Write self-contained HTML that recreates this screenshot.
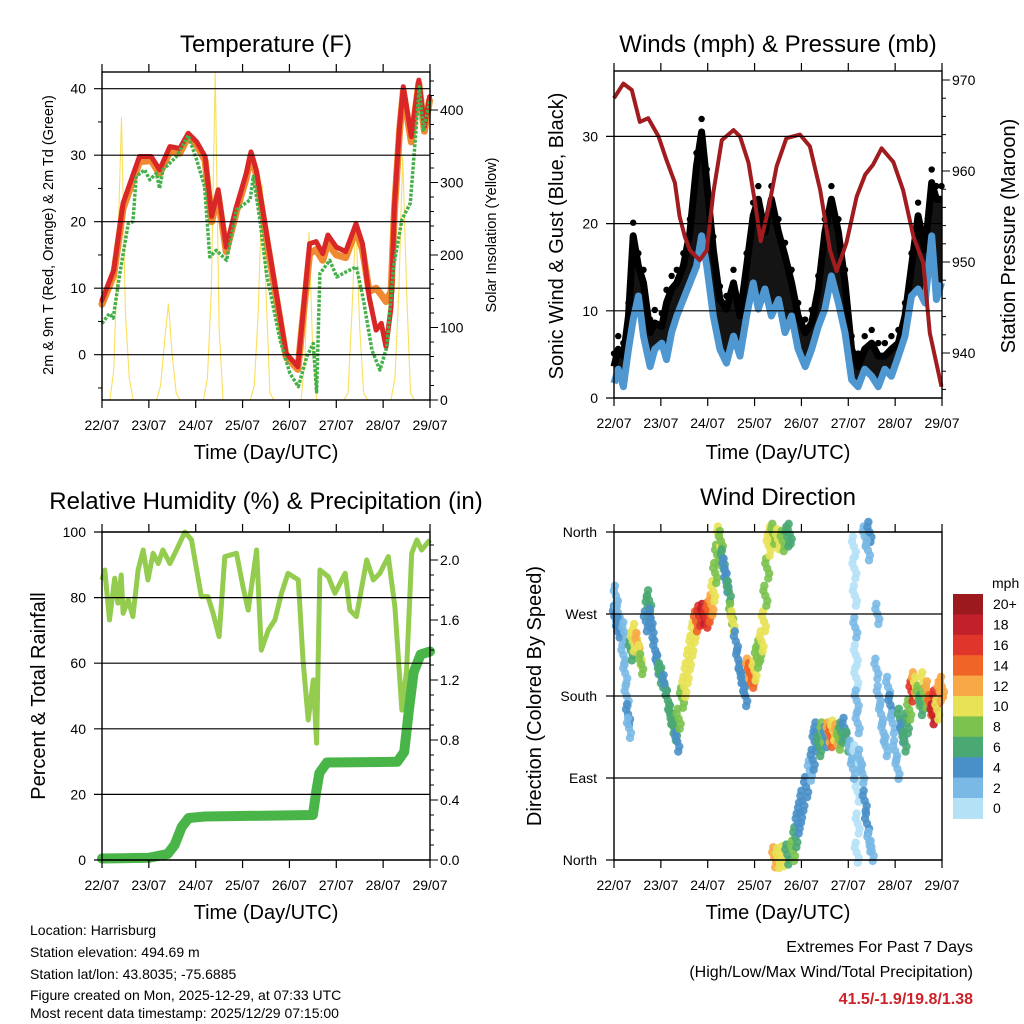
<!DOCTYPE html>
<html><head><meta charset="utf-8"><style>
html,body{margin:0;padding:0;background:#fff;}
svg{display:block;font-family:"Liberation Sans",Arial,sans-serif;}
</style></head><body>
<svg id="c" width="1024" height="1024" viewBox="0 0 1024 1024" xmlns="http://www.w3.org/2000/svg">
<text x="266" y="52" font-size="24" text-anchor="middle">Temperature (F)</text>
<text x="778" y="52" font-size="24" text-anchor="middle">Winds (mph) &amp; Pressure (mb)</text>
<text x="266" y="509" font-size="24" text-anchor="middle">Relative Humidity (%) &amp; Precipitation (in)</text>
<text x="778" y="505" font-size="24" text-anchor="middle">Wind Direction</text>
<text x="266" y="459" font-size="20" text-anchor="middle">Time (Day/UTC)</text>
<text x="778" y="459" font-size="20" text-anchor="middle">Time (Day/UTC)</text>
<text x="266" y="919" font-size="20" text-anchor="middle">Time (Day/UTC)</text>
<text x="778" y="919" font-size="20" text-anchor="middle">Time (Day/UTC)</text>
<text transform="translate(53,235) rotate(-90)" font-size="14.5" text-anchor="middle">2m &amp; 9m T (Red, Orange) &amp; 2m Td (Green)</text>
<text transform="translate(496,235) rotate(-90)" font-size="14.5" text-anchor="middle">Solar Insolation (Yellow)</text>
<text transform="translate(563,236) rotate(-90)" font-size="20" text-anchor="middle">Sonic Wind &amp; Gust (Blue, Black)</text>
<text transform="translate(1015,236) rotate(-90)" font-size="20" text-anchor="middle">Station Pressure (Maroon)</text>
<text transform="translate(45,696) rotate(-90)" font-size="20" text-anchor="middle">Percent &amp; Total Rainfall</text>
<text transform="translate(541,696) rotate(-90)" font-size="20" text-anchor="middle">Direction (Colored By Speed)</text>
<g font-size="14">
<text x="30" y="935">Location: Harrisburg</text>
<text x="30" y="957">Station elevation: 494.69 m</text>
<text x="30" y="979">Station lat/lon: 43.8035; -75.6885</text>
<text x="30" y="1000">Figure created on Mon, 2025-12-29, at 07:33 UTC</text>
<text x="30" y="1018">Most recent data timestamp: 2025/12/29 07:15:00</text>
</g>
<g text-anchor="end">
<text x="973" y="952" font-size="16">Extremes For Past 7 Days</text>
<text x="973" y="977" font-size="16">(High/Low/Max Wind/Total Precipitation)</text>
<text x="973" y="1004" font-size="16" font-weight="bold" fill="#cc2229">41.5/-1.9/19.8/1.38</text>
</g>
</svg>
<script>
// ---------- data ----------
const dayLabels = ["22/07","23/07","24/07","25/07","26/07","27/07","28/07","29/07"];
const tDays = [0,0.25,0.45,0.66,0.8,1.05,1.23,1.45,1.66,1.84,2.02,2.2,2.34,2.48,2.65,2.87,3.08,3.18,3.29,3.5,3.72,3.93,4.18,4.29,4.43,4.57,4.71,4.82,5.0,5.2,5.42,5.56,5.7,5.85,5.96,6.06,6.17,6.24,6.35,6.43,6.6,6.76,6.88,6.99];
const tRed = [8.2,12.7,22.8,27,29.8,29.8,27.8,31.3,31,33.3,32,29.8,20.8,24.8,16.2,22.3,27.3,30.5,27.8,18.7,9.2,0.2,-1.8,6.2,16.7,17,15.2,18,16.2,15.5,19.7,16.7,8.7,3.7,4.7,1.2,7.2,22.3,34.3,40.3,32.8,41.3,34.3,38.8];
const tOrange = [7.6,12.0,22.0,26.2,29.0,29.2,27.2,30.6,30.3,32.8,31.5,29.2,20.0,24.0,15.5,21.6,26.6,30.0,27.2,18.0,8.6,-0.3,-2.2,5.6,15.2,15.8,14.2,16.8,15.0,14.6,18.8,15.8,9.5,10.0,9.0,8.0,9.5,21.6,33.5,39.6,32.0,40.8,33.6,38.2];
const tdDays = [0,0.16,0.24,0.38,0.56,0.66,0.73,0.91,1.02,1.16,1.23,1.3,1.59,1.84,2.02,2.19,2.3,2.44,2.66,2.87,3.16,3.23,3.37,3.51,3.8,4.01,4.19,4.37,4.51,4.58,4.65,4.86,5.01,5.22,5.43,5.58,5.76,5.93,6.08,6.22,6.4,6.58,6.68,6.77,6.86,7.0];
const tdGreen = [4.7,6.2,5.5,12.2,19.7,20,26.8,27.8,26.3,27.3,25,27.8,29.8,33,29.3,25.3,14.7,15.7,14.2,21.8,23.3,26.8,20.3,12.2,2.2,-2.8,-4.8,-0.3,1.7,-5.6,12.2,14.2,11.7,12.5,13.2,8.2,0.7,-2.3,1.2,13.2,20.3,22.8,31.8,40.3,33.8,38.3];
const solarHourStep = 2;
const solar = [0,0,0,40,200,390,120,30,0,0,0,0, 0,0,0,20,80,133,60,10,0,0,0,0, 0,0,0,30,150,453,100,0,0,0,0,0, 0,0,0,20,120,297,150,10,0,0,0,0, 0,0,0,0,60,232,60,0,0,0,0,0, 0,0,0,10,120,248,100,10,0,0,0,0, 0,0,0,30,150,336,150,10,0,0,0,0, 0];

const wDays = [0,0.09,0.2,0.31,0.41,0.52,0.63,0.77,0.87,1.02,1.12,1.23,1.34,1.48,1.62,1.76,1.87,1.98,2.12,2.26,2.4,2.55,2.69,2.83,2.97,3.08,3.22,3.36,3.51,3.65,3.79,3.93,4.08,4.22,4.36,4.5,4.64,4.79,4.93,5.07,5.21,5.35,5.5,5.64,5.78,5.92,6.07,6.21,6.35,6.49,6.64,6.78,6.88,6.99];
const windMean = [1.7,3.3,1.3,5.6,9,11.7,7.1,3.6,5.6,6.3,4.4,7.5,9.4,11.3,13.2,15.1,18.6,15.1,9.4,5.6,4,7.1,4.8,9.4,13.2,10.2,12.5,9.4,11.3,7.5,9.4,5.6,3.6,5.6,8.2,10.2,14,10.9,7.5,2.1,1.3,3.3,2.5,1.3,3.3,2.5,4.8,7.1,11.7,12.5,10.9,18.6,11.3,13.2];
const windGust = [3.6,5.6,4.8,9.4,18.6,15.1,13.2,7.5,8.6,8.2,10.9,12.5,13.2,15.1,19,26.6,30.5,24.7,17,11.3,10.2,13.2,9.4,15.1,20.9,22.8,19,22.8,19,16.3,13.2,9.4,7.5,8.6,12.5,19,22.8,19,13.2,5.6,3.6,5.6,6.3,4.8,4.8,5.6,6.3,9.4,15.1,20.9,17,24.7,22.8,22.8];
const pDays = [0,0.2,0.38,0.55,0.73,0.95,1.12,1.3,1.4,1.51,1.62,1.83,1.98,2.12,2.3,2.55,2.69,2.87,3.0,3.13,3.29,3.47,3.68,3.97,4.18,4.4,4.61,4.75,4.96,5.18,5.36,5.53,5.71,5.96,6.17,6.39,6.6,6.74,6.99];
const pressure = [968.0,969.6,968.9,965.4,965.8,963.8,961.2,958.7,955,952.8,951.3,950.2,951.3,957.6,963.4,964.5,963.8,960.9,956.8,952.3,955.7,960.5,963.6,964,962.7,957.9,951.3,949,952.1,957.2,959.6,960.7,962.5,961,957.9,952.8,949.9,942.2,936.3];

const rhDays = [0,0.06,0.16,0.27,0.34,0.41,0.45,0.56,0.66,0.77,0.88,0.98,1.09,1.2,1.3,1.45,1.59,1.77,1.91,2.02,2.12,2.26,2.37,2.5,2.62,2.87,3.01,3.12,3.3,3.4,3.55,3.69,3.83,3.97,4.19,4.29,4.4,4.51,4.58,4.65,4.83,4.97,5.19,5.29,5.43,5.65,5.79,5.93,6.11,6.25,6.4,6.5,6.61,6.72,6.82,7.0];
const rhValues = [85.4,88.4,73.2,85.9,78.3,86.9,75.2,79.3,74.2,88.4,94.5,85.4,93.5,90.4,94.5,90.4,94.5,100,97.6,88.4,80.3,80.3,75.2,68.1,92.5,93.5,83.3,76.2,94.5,64,70.1,73.2,81.3,87.4,85.4,61,42.7,54.9,35.6,88.4,86.4,81.3,87.4,76.2,74.2,91.5,85.4,87.4,92.5,77.2,45.7,57.9,93.5,97.6,94.5,97.6];
const rainDays = [0,1.0,1.4,1.55,1.7,1.85,2.2,4.5,4.57,4.64,4.8,6.3,6.45,6.55,6.65,6.8,7.0];
const rainTotal = [0.01,0.015,0.04,0.1,0.22,0.28,0.29,0.3,0.45,0.58,0.65,0.655,0.72,1.0,1.25,1.37,1.39];

const dirDays = [0.02,0.05,0.08,0.04,0.1,0.2,0.24,0.27,0.3,0.32,0.22,0.36,0.4,0.45,0.5,0.55,0.58,0.68,0.72,0.75,0.78,0.8,0.88,0.93,0.98,1.03,1.08,1.15,1.2,1.25,1.3,1.35,1.38,1.45,1.5,1.55,1.6,1.65,1.7,1.75,1.82,1.9,1.97,2.02,2.08,2.12,2.16,2.2,2.24,2.28,2.32,2.36,2.4,2.45,2.5,2.53,2.6,2.65,2.7,2.75,2.8,2.86,2.9,2.95,3.0,3.05,3.1,3.15,3.2,3.23,3.27,3.3,3.35,3.4,3.5,3.6,3.7,3.75,3.42,3.5,3.6,3.7,3.82,3.87,3.92,3.97,4.02,4.1,4.18,4.24,4.28,4.32,4.38,4.45,4.52,4.58,4.63,4.68,4.75,4.8,4.85,4.92,4.98,5.05,5.12,5.13,5.14,5.15,5.16,5.17,5.18,5.2,5.15,5.2,5.2,5.18,5.1,5.25,5.3,5.35,5.4,5.45,5.5,5.35,5.45,5.42,5.6,5.65,5.7,5.75,5.8,5.85,5.9,5.95,6.0,6.05,5.62,6.1,6.15,6.2,6.25,6.3,6.35,6.4,6.45,6.5,6.55,6.6,6.65,6.7,6.75,6.8,6.85,6.9,6.95,7.0];
const dirDeg = [268,262,272,290,255,225,205,180,160,145,250,230,240,248,238,225,215,262,278,285,265,255,230,215,205,200,192,175,160,150,142,130,155,178,190,205,220,235,250,262,268,270,266,272,280,295,315,335,355,350,330,320,305,295,270,262,240,220,205,195,180,210,205,200,208,222,230,240,262,290,320,345,355,358,352,350,355,358,3,2,4,6,10,25,40,52,65,80,98,110,130,140,125,140,135,140,135,142,138,132,140,145,130,120,344,320,290,255,225,200,175,150,115,75,40,8,100,110,95,65,40,20,10,355,360,340,210,180,160,140,125,190,170,150,120,100,270,155,140,130,150,165,185,195,190,180,170,195,178,185,170,160,175,165,185,190];
const dirSpeed = [4,4,3,3,4,3,2,3,4,3,2,6,10,11,12,10,9,5,6,7,4,4,4,5,6,6,5,6,6,7,6,5,8,9,10,10,10,11,10,14,16,18,17,14,12,10,9,8,10,8,6,4,4,6,8,10,4,4,5,4,4,12,15,14,10,8,9,10,11,8,8,10,10,9,10,8,7,6,12,11,10,7,8,6,5,4,4,4,3,4,5,4,6,8,5,12,14,10,13,9,7,5,6,3,1,1,1,2,1,1,2,2,1,1,1,1,2,2,3,4,4,3,3,3,4,3,2,2,3,2,2,3,4,2,2,2,2,6,5,6,7,8,16,12,10,8,6,10,8,12,14,18,16,10,12,12];
const speedBins = ["0","2","4","6","8","10","12","14","16","18","20+"];
const speedColors = ["#b5e1f7","#7ab9e5","#4a90c8","#4aa873","#7bc24f","#e8e257","#f8a845","#f06428","#e0352a","#c2202a","#9c1a1e"];

// ---------- helpers ----------
const NS = "http://www.w3.org/2000/svg";
const svg = document.getElementById("c");
function el(tag, attrs, parent){
  const e = document.createElementNS(NS, tag);
  for (const k in attrs) e.setAttribute(k, attrs[k]);
  (parent || svg).appendChild(e);
  return e;
}
function linScale(d0, d1, r0, r1){ return v => r0 + (v - d0) * (r1 - r0) / (d1 - d0); }
function pathD(xsArr, ysArr, fx, fy){
  return xsArr.map((v,i)=>(i?"L":"M")+fx(v).toFixed(1)+","+fy(ysArr[i]).toFixed(1)).join("");
}
function speedColor(s){ let i = Math.min(10, Math.max(0, Math.floor(s/2))); return speedColors[i]; }

function frame(P, name){
  const g = el("g", {});
  
  
  P.g = g;
  return g;
}
function xAxis(P, g){
  for (let i=0;i<8;i++){
    const x = P.x(i);
    el("line",{x1:x,y1:P.y1,x2:x,y2:P.y1+8,stroke:"#000","stroke-width":1.2},g);
    el("line",{x1:x,y1:P.y0,x2:x,y2:P.y0-8,stroke:"#000","stroke-width":1.2},g);
    const t = el("text",{x:x,y:P.y1+30,"font-size":14,"text-anchor":"middle"},g);
    t.textContent = dayLabels[i];
    
    
  }
}
function hGrid(P, g, y, label, lx){
  el("line",{x1:P.x0-8,y1:y,x2:P.x1,y2:y,stroke:"#000","stroke-width":1.2},g);
  if (label!==null){
    const t = el("text",{x:lx,y:y+5,"font-size":14,"text-anchor":"end"},g);
    t.textContent = label;
    
    
  }
}
function rightTick(P, g, y, major, label){
  el("line",{x1:P.x1,y1:y,x2:P.x1+(major?8:4),y2:y,stroke:"#000","stroke-width":1},g);
  if (label!==null && label!==undefined){
    const t = el("text",{x:P.x1+10,y:y+5,"font-size":14,"text-anchor":"start"},g);
    t.textContent = label;
    
    
  }
}
function box(P, g){
  el("rect",{x:P.x0,y:P.y0,width:P.x1-P.x0,height:P.y1-P.y0,fill:"none",stroke:"#000","stroke-width":1.4},g);
}

// ---------- Panel 1: Temperature ----------
const P1 = {x0:102,x1:430,y0:72,y1:400};
P1.x = linScale(0,7,P1.x0,P1.x1);
const tY = linScale(0,40,354.7,88.7);
const sY = linScale(0,400,400,110);
{
  const g = frame(P1,'temperature');
  for (let s=0;s<=440;s+=20){ const y=sY(s); if(y<P1.y0) break; rightTick(P1,g,y,s%100===0, s%100===0? String(s):null); }
  for (let v=-5; v<=40; v+=5){ const y=tY(v); if(v%10!==0) el("line",{x1:P1.x0-4,y1:y,x2:P1.x0,y2:y,stroke:"#000"},g); }
  [40,30,20,10,0].forEach(v=>hGrid(P1,g,tY(v),String(v),86));
  const solDays = solar.map((v,i)=>i*solarHourStep/24);
  const ys = el("path",{d:pathD(solDays,solar,P1.x,sY),fill:"none",stroke:"#f9dc4a","stroke-width":1.1,opacity:0.9});
  
  
  const og = el("path",{d:pathD(tDays,tOrange,P1.x,tY),fill:"none",stroke:"#f08a30","stroke-width":7,"stroke-linejoin":"round","stroke-linecap":"round"});
  
  
  const rd = el("path",{d:pathD(tDays,tRed,P1.x,tY),fill:"none",stroke:"#d92626","stroke-width":5,"stroke-linejoin":"round","stroke-linecap":"round"});
  
  
  const gr = el("path",{d:pathD(tdDays,tdGreen,P1.x,tY),fill:"none",stroke:"#45b04a","stroke-width":3.5,"stroke-dasharray":"3 1.5","stroke-linejoin":"round"});
  
  
  xAxis(P1,g); box(P1,g);
  svg.appendChild(g);
}

// ---------- Panel 2: Winds & Pressure ----------
const P2 = {x0:614,x1:942,y0:71,y1:398};
P2.x = linScale(0,7,P2.x0,P2.x1);
const wY = linScale(0,30,398,136.4);
const pY = linScale(940,970,353,80);
{
  const g = frame(P2,'winds');
  for (let p=936;p<=972;p+=2){ const y=pY(p); if(y<P2.y0||y>P2.y1) continue; rightTick(P2,g,y,p%10===0,p%10===0?String(p):null); }
  [30,20,10,0].forEach(v=>hGrid(P2,g,wY(v),String(v),598));
  let top = wDays.map((d,i)=>P2.x(d).toFixed(1)+","+wY(windGust[i]).toFixed(1));
  let bot = wDays.slice().reverse().map((d,j)=>{const i=wDays.length-1-j;return P2.x(d).toFixed(1)+","+wY(windMean[i]).toFixed(1);});
  const band = el("polygon",{points:top.concat(bot).join(" "),fill:"#000",opacity:0.92});
  
  
  const gl = el("path",{d:pathD(wDays,windGust,P2.x,wY),fill:"none",stroke:"#000","stroke-width":7,"stroke-linejoin":"round"});
  
  
  wDays.forEach((d,i)=>{
    const c = el("circle",{cx:P2.x(d),cy:wY(windGust[i]+1.5),r:3.2,fill:"#000"});
    
    
  });
  const bl = el("path",{d:pathD(wDays,windMean,P2.x,wY),fill:"none",stroke:"#4f97d1","stroke-width":7,"stroke-linejoin":"round"});
  
  
  const pl = el("path",{d:pathD(pDays,pressure,P2.x,pY),fill:"none",stroke:"#a01c1f","stroke-width":4,"stroke-linejoin":"round"});
  
  
  xAxis(P2,g); box(P2,g);
  svg.appendChild(g);
}

// ---------- Panel 3: RH & Precip ----------
const P3 = {x0:102,x1:430,y0:532,y1:860};
P3.x = linScale(0,7,P3.x0,P3.x1);
const rhY = linScale(0,100,860,532);
const rY = linScale(0,2,860,560);
{
  const g = frame(P3,'humidity');
  for (let k=0;k<=21;k++){ const y=rY(k/10); if(y<P3.y0) break; rightTick(P3,g,y,k%4===0,k%4===0?(k/10).toFixed(1):null); }
  [100,80,60,40,20,0].forEach(v=>hGrid(P3,g,rhY(v),String(v),86));
  const rl = el("path",{d:pathD(rhDays,rhValues,P3.x,rhY),fill:"none",stroke:"#93cc4e","stroke-width":5,"stroke-linejoin":"round"});
  
  
  const pl = el("path",{d:pathD(rainDays,rainTotal,P3.x,rY),fill:"none",stroke:"#49b549","stroke-width":10,"stroke-linejoin":"round","stroke-linecap":"round"});
  
  
  xAxis(P3,g); box(P3,g);
  svg.appendChild(g);
}

// ---------- Panel 4: Wind direction ----------
const P4 = {x0:614,x1:942,y0:532,y1:860};
P4.x = linScale(0,7,P4.x0,P4.x1);
const dY = linScale(0,360,860,532);
{
  const g = frame(P4,'wind-direction');
  [[360,"North"],[270,"West"],[180,"South"],[90,"East"],[0,"North"]].forEach(a=>hGrid(P4,g,dY(a[0]),a[1],597));
  const offs = [[0,0],[2,5],[-2,-5],[1,10],[-1,-10]];
  dirDays.forEach((d,i)=>{
    offs.forEach(o=>{
      const c = el("circle",{cx:P4.x(d)+o[0],cy:dY(dirDeg[i])+o[1],r:4.2,fill:speedColor(dirSpeed[i]),opacity:0.9});
      
      
    });
  });
  xAxis(P4,g); box(P4,g);
  svg.appendChild(g);
  // colorbar
  const cb = el("g",{});
  
  
  const cbTop = 594, cbH = 20.4;
  const mt = el("text",{x:992,y:588,"font-size":14},cb);
  mt.textContent = "mph";
  
  
  for (let k=0;k<11;k++){
    const idx = 10-k;
    const r = el("rect",{x:953,y:cbTop+k*cbH,width:30,height:cbH+0.5,fill:speedColors[idx]},cb);
    
    
    const t = el("text",{x:993,y:cbTop+k*cbH+cbH/2+5,"font-size":14},cb);
    t.textContent = speedBins[idx];
    
    
  }
}
</script>
</body></html>
